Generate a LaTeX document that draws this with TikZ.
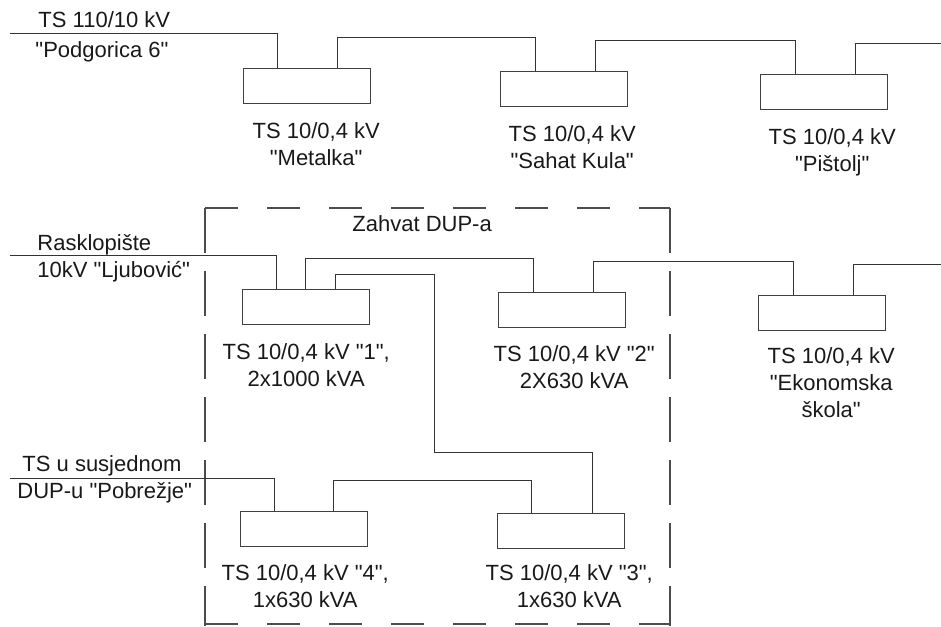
\documentclass[tikz,border=0pt]{standalone}
\usepackage{fontspec}
\setmainfont{Liberation Sans}[Ligatures=TeXOff]
\usetikzlibrary{positioning}
\usetikzlibrary{calc}

\begin{document}
\begin{tikzpicture}[x=1pt,y=-1pt]
        \useasboundingbox (0,0) rectangle (941,626);
        \begin{scope}[line width=0.9pt,draw=black!80,text=black!90,font=\fontsize{22}{27}\selectfont,
          ts node/.style={rectangle,draw=black!75,line width=1.4pt,minimum width=127pt,minimum height=35pt,inner sep=0pt,anchor=north west},
          ts label/.style={align=center,inner sep=0pt},
          side label/.style={align=left,inner sep=0pt,anchor=base west},
          frame h/.style={draw=black!70,line width=1.2pt,dash pattern=on 33pt off 29pt},
          frame v/.style={draw=black!70,line width=1.2pt,dash pattern=on 45pt off 18pt}]
        % zahvat DUP-a
        \draw[frame h] (205,208) -- (670,208);
        \draw[frame h] (205,624) -- (670,624);
        \draw[frame v] (205,208) -- (205,626);
        \draw[frame v] (670,208) -- (670,626);
        \node[side label] (zahvat) at (352,231) {Zahvat DUP-a};
        % trafostanice
        \node[ts node] (metalka) at (243,68) {};
        \node[ts node] (sahat) at (500,71) {};
        \node[ts node] (pistolj) at (760,74) {};
        \node[ts node] (ts1) at (242,289) {};
        \node[ts node] (ts2) at (498,292) {};
        \node[ts node] (ekonomska) at (758,295) {};
        \node[ts node] (ts4) at (240,511) {};
        \node[ts node] (ts3) at (497,513) {};
        \node[ts label, below=18pt of metalka.south, xshift=9pt] (metalka label) {TS 10/0,4 kV\\"Metalka"};
        \node[ts label, below=18pt of sahat.south, xshift=8pt] (sahat label) {TS 10/0,4 kV\\"Sahat Kula"};
        \node[ts label, below=18pt of pistolj.south, xshift=8pt] (pistolj label) {TS 10/0,4 kV\\"Pištolj"};
        \node[ts label, below=18pt of ts1.south] (ts1 label) {TS 10/0,4 kV "1",\\2x1000 kVA};
        \node[ts label, below=17pt of ts2.south, xshift=12pt] (ts2 label) {TS 10/0,4 kV "2"\\2X630 kVA};
        \node[ts label, below=16pt of ekonomska.south, xshift=9pt] (ekonomska label) {TS 10/0,4 kV\\"Ekonomska\\škola"};
        \node[ts label, below=17pt of ts4.south, xshift=1pt] (ts4 label) {TS 10/0,4 kV "4",\\1x630 kVA};
        \node[ts label, below=15pt of ts3.south, xshift=8pt] (ts3 label) {TS 10/0,4 kV "3",\\1x630 kVA};
        % napojne tacke
        \node[side label] (podgorica) at (38,57) {TS 110/10 kV\\[2pt]\hspace*{-3pt}"Podgorica 6"};
        \node[side label] (ljubovic) at (37,277) {Rasklopište\\10kV "Ljubović"};
        \node[side label] (pobrezje) at (22,498) {TS u susjednom\\\hspace*{-5pt}DUP-u "Pobrežje"};
        \coordinate (podgorica in) at (10,33);
        \coordinate (ljubovic in) at (10,255);
        \coordinate (pobrezje in) at (10,478);
        \coordinate (pistolj out) at (941,43);
        \coordinate (ekonomska out) at (941,264);
        % vodovi
        \draw (podgorica in) -| ([xshift=34pt]metalka.north west);
        \draw ([xshift=94pt]metalka.north west) -- ++(0,-31) -| ([xshift=35pt]sahat.north west);
        \draw ([xshift=95pt]sahat.north west) -- ++(0,-31) -| ([xshift=35pt]pistolj.north west);
        \draw ([xshift=95pt]pistolj.north west) |- (pistolj out);
        \draw (ljubovic in) -| ([xshift=34pt]ts1.north west);
        \draw ([xshift=63pt]ts1.north west) -- ++(0,-31) -| ([xshift=35pt]ts2.north west);
        \draw ([xshift=93pt]ts1.north west) -- ++(0,-15) -- ++(99,0) -- ++(0,178) -| ([xshift=95pt]ts3.north west);
        \draw ([xshift=95pt]ts2.north west) -- ++(0,-31) -| ([xshift=35pt]ekonomska.north west);
        \draw ([xshift=95pt]ekonomska.north west) |- (ekonomska out);
        \draw (pobrezje in) -| ([xshift=34pt]ts4.north west);
        \draw ([xshift=93pt]ts4.north west) -- ++(0,-31) -| ([xshift=34pt]ts3.north west);
        \end{scope}
\end{tikzpicture}
\end{document}
